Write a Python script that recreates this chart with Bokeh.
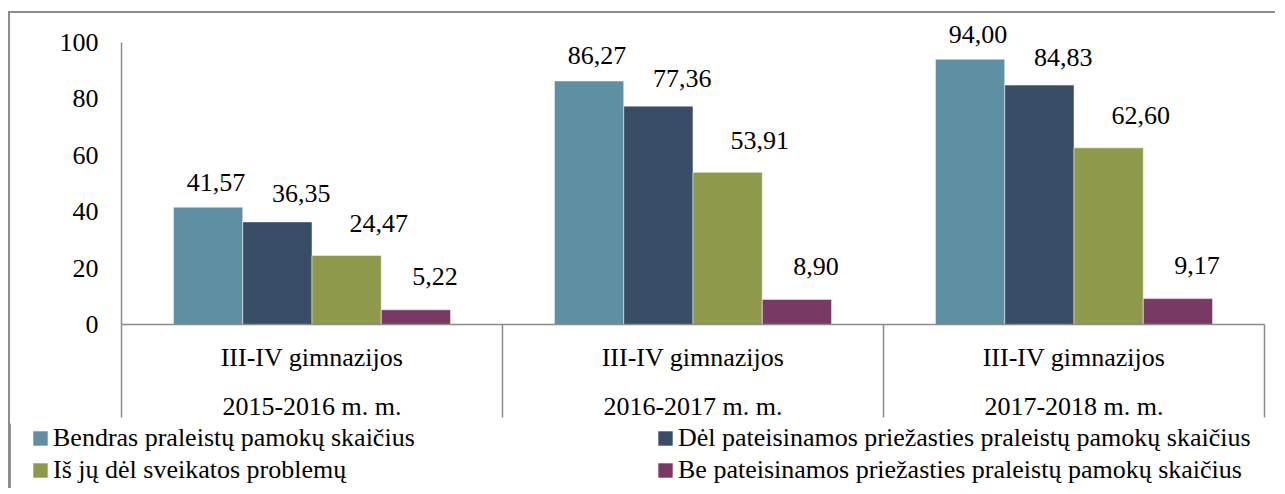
from bokeh.plotting import figure
from bokeh.layouts import column
from bokeh.models import (ColumnDataSource, Range1d, LinearAxis,
                          FixedTicker, Legend, LegendItem)
from bokeh.transform import dodge
from bokeh.core.properties import value
from bokeh.embed import file_html
from bokeh.resources import INLINE

# ---------------- data ----------------
years = ["2015-2016 m. m.", "2016-2017 m. m.", "2017-2018 m. m."]
group_label = "III-IV gimnazijos"
series_names = [
    "Bendras praleistų pamokų skaičius",
    "Dėl pateisinamos priežasties praleistų pamokų skaičius",
    "Iš jų dėl sveikatos problemų",
    "Be pateisinamos priežasties praleistų pamokų skaičius",
]
bendras = [41.57, 86.27, 94.00]
pateisinamos = [36.35, 77.36, 84.83]
sveikatos = [24.47, 53.91, 62.60]
be_pateisinamos = [5.22, 8.90, 9.17]
y_ticks = [0, 20, 40, 60, 80, 100]

# ---------------- style ----------------
FONT = "Liberation Serif"
FS = "26px"
GRAY = "#8c8c8c"
colors = ["#5F8FA2", "#374E66", "#8F994C", "#783A64"]
label_offsets = [(8, -25), (24, -28), (32, -32), (19, -33)]  # px nudges per series

W = 1265
H1, H2 = 410, 65
frame_left, frame_right = 111, 1254      # canvas x of plot area
axis_top_px, frame_bottom = 29, 314      # canvas y of value 100 and value 0
frame_top = 2
y_end = 100 * (frame_bottom - frame_top) / (frame_bottom - axis_top_px)
sep_len = 93

series = [bendras, pateisinamos, sveikatos, be_pateisinamos]
keys = ["s0", "s1", "s2", "s3"]
data = dict(cat=years, xc=[i + 0.5 for i in range(len(years))])
for k, vals in zip(keys, series):
    data[k] = vals
    data[k + "_lbl"] = [f"{v:.2f}".replace(".", ",") for v in vals]
src = ColumnDataSource(data)

p = figure(width=W, height=H1, x_range=Range1d(0, len(years)), y_range=Range1d(0, y_end),
           output_backend="svg", toolbar_location=None, x_axis_location=None,
           min_border_left=frame_left, min_border_right=W - frame_right,
           min_border_top=frame_top, min_border_bottom=H1 - frame_bottom)
p.outline_line_color = None
p.background_fill_color = "white"
p.border_fill_color = "white"
p.grid.visible = False

n = len(series)
bw = 1.0 / (n + 1.5)
for i, (k, col) in enumerate(zip(keys, colors)):
    off = (i - (n - 1) / 2) * bw
    p.vbar(x=dodge("xc", off), top=k, width=bw, source=src,
           fill_color=col, line_color="white", line_alpha=0.5, line_width=1)
    dx, dy = label_offsets[i]
    p.text(x=dodge("xc", off), y=k, text=k + "_lbl", source=src,
           x_offset=dx, y_offset=dy, text_align="center", text_baseline="alphabetic",
           text_font=value(FONT), text_font_size=FS, text_color="black")

# y axis
ya = p.yaxis[0]
ya.ticker = FixedTicker(ticks=y_ticks)
ya.bounds = (0, 100)
ya.major_tick_out = 0
ya.major_tick_in = 0
ya.minor_tick_out = 0
ya.minor_tick_in = 0
ya.axis_line_color = GRAY
ya.axis_line_width = 1.5
ya.major_label_standoff = 23
ya.major_label_text_font = FONT
ya.major_label_text_font_size = FS
ya.major_label_text_color = "black"

# x axes: labels at slot centres, separators (minor ticks) at slot boundaries
centers = [i + 0.5 for i in range(len(years))]
bounds = [float(i) for i in range(len(years) + 1)]

ax1 = LinearAxis(ticker=FixedTicker(ticks=centers, minor_ticks=bounds),
                 major_label_overrides={c: group_label for c in centers},
                 major_tick_out=0, major_tick_in=0,
                 minor_tick_out=sep_len, minor_tick_in=0,
                 minor_tick_line_color=GRAY, minor_tick_line_width=1.5,
                 axis_line_color=GRAY, axis_line_width=1.5,
                 major_label_standoff=18 - sep_len,
                 major_label_text_font=FONT, major_label_text_font_size=FS,
                 major_label_text_color="black")
ax2 = LinearAxis(ticker=FixedTicker(ticks=centers, minor_ticks=[]),
                 major_label_overrides={c: y for c, y in zip(centers, years)},
                 major_tick_out=0, major_tick_in=0,
                 minor_tick_out=0, minor_tick_in=0,
                 major_tick_line_color=None, minor_tick_line_color=None,
                 axis_line_color=None,
                 major_label_standoff=17,
                 major_label_text_font=FONT, major_label_text_font_size=FS,
                 major_label_text_color="black")
p.add_layout(ax1, "below")
p.add_layout(ax2, "below")

# ---------------- legend strip ----------------
lg = figure(width=W, height=H2, x_range=Range1d(0, 1), y_range=Range1d(0, 1),
            output_backend="svg", toolbar_location=None,
            x_axis_location=None, y_axis_location=None,
            min_border_left=0, min_border_right=0, min_border_top=0, min_border_bottom=0)
if "frame_align" in lg.properties():
    lg.frame_align = False
if "frame_align" in p.properties():
    p.frame_align = False
lg.outline_line_color = None
lg.grid.visible = False
lg.border_fill_color = "white"
# legend swatches (kept outside the visible range of this strip)
swatches = [lg.vbar(x=[-5], top=[1], width=0.1, fill_color=c, line_color=None) for c in colors]


def make_legend(idx, loc):
    return Legend(items=[LegendItem(label=series_names[i], renderers=[swatches[i]]) for i in idx],
                  location=loc, orientation="vertical",
                  border_line_color=None, background_fill_alpha=0,
                  padding=0, margin=0, spacing=2,
                  glyph_width=18, glyph_height=18, label_standoff=4,
                  label_text_font=FONT, label_text_font_size=FS, label_text_color="black")


lg.add_layout(make_legend([0, 2], (21, 3)), "center")
lg.add_layout(make_legend([1, 3], (646, 3)), "center")

layout = column(p, lg, spacing=0,
                styles={"border-top": "2px solid #8c8c8c", "border-left": "2px solid #8c8c8c",
                        "margin-top": "11px", "margin-left": "8px"})

open("out.html", "w").write(file_html(layout, INLINE))
